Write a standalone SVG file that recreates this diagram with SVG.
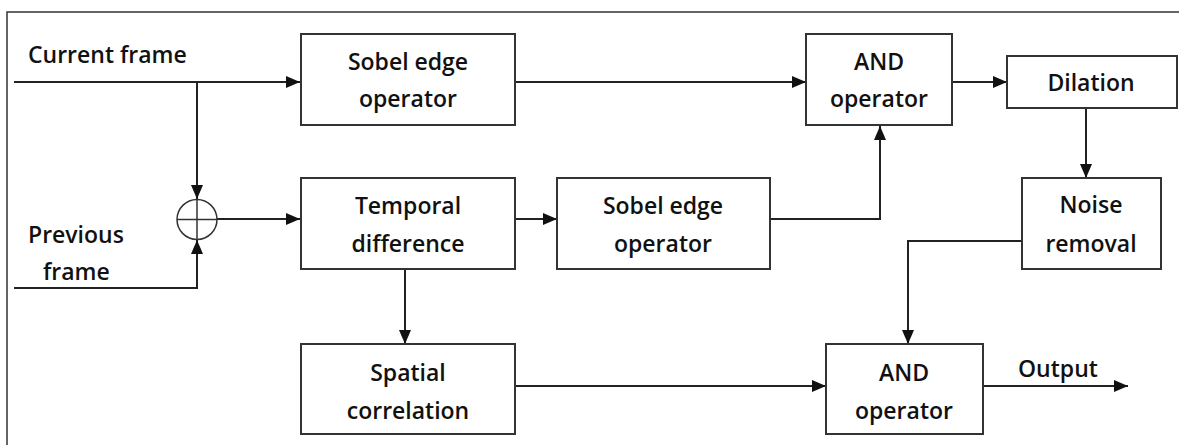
<svg xmlns="http://www.w3.org/2000/svg" width="1179" height="445" viewBox="0 0 1179 445">
<defs>
<marker id="arr" markerWidth="14" markerHeight="12" refX="14" refY="6" orient="auto" markerUnits="userSpaceOnUse">
<path d="M0,0 L14,6 L0,12 Z" fill="#111"/>
</marker>
<style>
.box{fill:#fff;stroke:#333;stroke-width:2}
.t{font-family:"Open Sans","Liberation Sans",sans-serif;font-weight:600;font-size:23px;fill:#111;text-anchor:middle}
.tl{font-family:"Open Sans","Liberation Sans",sans-serif;font-weight:600;font-size:23px;fill:#111}
.c{fill:none;stroke:#222;stroke-width:2}
</style>
</defs>
<rect width="1179" height="445" fill="#fff"/>
<path d="M7,445 L7,12 L1179,12" fill="none" stroke="#333" stroke-width="1.5"/>
<g id="connectors">
<path class="c" d="M14,82 L300,82" marker-end="url(#arr)"/>
<path class="c" d="M197,82 L197,199" marker-end="url(#arr)"/>
<path class="c" d="M14,288 L197,288 L197,240" marker-end="url(#arr)"/>
<path class="c" d="M217,219 L300,219" marker-end="url(#arr)"/>
<path class="c" d="M515,82 L806,82" marker-end="url(#arr)"/>
<path class="c" d="M515,219 L557,219" marker-end="url(#arr)"/>
<path class="c" d="M770,219 L880,219 L880,126" marker-end="url(#arr)"/>
<path class="c" d="M952,82 L1007,82" marker-end="url(#arr)"/>
<path class="c" d="M1086,108 L1086,178" marker-end="url(#arr)"/>
<path class="c" d="M1022,241 L908,241 L908,344" marker-end="url(#arr)"/>
<path class="c" d="M405,269 L405,344" marker-end="url(#arr)"/>
<path class="c" d="M515,386 L826,386" marker-end="url(#arr)"/>
<path class="c" d="M983,386 L1128,386" marker-end="url(#arr)"/>
</g>
<g id="sum">
<circle cx="197" cy="219.5" r="20" fill="none" stroke="#333" stroke-width="1.5"/>
<path d="M177,219.5 L217,219.5 M197,199.5 L197,239.5" stroke="#333" stroke-width="1.5"/>
</g>
<g id="label-current"><text class="tl" x="28" y="63">Current frame</text></g>
<g id="label-previous"><text class="tl" x="28" y="243">Previous</text><text class="tl" x="43" y="280">frame</text></g>
<g id="sobel1"><rect class="box" x="301" y="34" width="214" height="91"/><text class="t" x="408" y="70">Sobel edge</text><text class="t" x="408" y="107">operator</text></g>
<g id="temporal"><rect class="box" x="301" y="178" width="214" height="91"/><text class="t" x="408" y="214">Temporal</text><text class="t" x="408" y="252">difference</text></g>
<g id="sobel2"><rect class="box" x="557" y="178" width="213" height="91"/><text class="t" x="663" y="214">Sobel edge</text><text class="t" x="663" y="252">operator</text></g>
<g id="and1"><rect class="box" x="806" y="34" width="146" height="91"/><text class="t" x="879" y="70">AND</text><text class="t" x="879" y="107">operator</text></g>
<g id="dilation"><rect class="box" x="1007" y="56" width="170" height="52"/><text class="t" x="1091" y="91">Dilation</text></g>
<g id="noise"><rect class="box" x="1022" y="178" width="139" height="91"/><text class="t" x="1091" y="213">Noise</text><text class="t" x="1091" y="252">removal</text></g>
<g id="spatial"><rect class="box" x="301" y="344" width="214" height="90"/><text class="t" x="408" y="381">Spatial</text><text class="t" x="408" y="419">correlation</text></g>
<g id="and2"><rect class="box" x="826" y="344" width="157" height="90"/><text class="t" x="904" y="381">AND</text><text class="t" x="904" y="419">operator</text></g>
<g id="label-output"><text class="tl" x="1018" y="377">Output</text></g>
</svg>
